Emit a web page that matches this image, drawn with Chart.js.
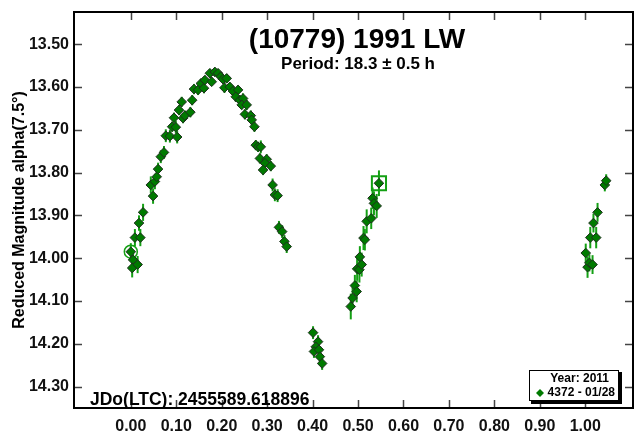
<!DOCTYPE html>
<html>
<head>
<meta charset="utf-8">
<script src="https://cdn.jsdelivr.net/npm/chart.js@4"></script>
<style>
  html, body { margin: 0; padding: 0; background: #fff; }
  #wrap { width: 639px; height: 441px; position: relative; }
</style>
</head>
<body>
<div id="wrap"><canvas id="lc"></canvas></div>
<script>
// rotational phase and reduced magnitude
var phase = [
  // rising branch
  0.000, 0.005, 0.003, 0.015, 0.009, 0.021, 0.018, 0.027, 0.049, 0.044,
  0.053, 0.057, 0.060, 0.066, 0.073, 0.077, 0.086, 0.102, 0.091, 0.099,
  0.095, 0.115, 0.119, 0.106, 0.112, 0.131, 0.135, 0.139, 0.148, 0.154,
  0.161, 0.163, 0.174, 0.178,
  // maximum and falling branch
  0.185, 0.192, 0.198, 0.203, 0.211, 0.206, 0.218, 0.225, 0.236, 0.231,
  0.240, 0.247, 0.244, 0.255, 0.251, 0.264, 0.266, 0.272, 0.275, 0.280,
  0.286, 0.284, 0.299, 0.295, 0.291, 0.308, 0.312, 0.317, 0.323, 0.326,
  0.333, 0.338, 0.343,
  // minimum
  0.401, 0.412, 0.407, 0.403, 0.414, 0.416, 0.421,
  // second rise
  0.484, 0.488, 0.493, 0.497, 0.498, 0.503, 0.508, 0.504, 0.512, 0.515,
  0.519, 0.529, 0.532, 0.535, 0.541, 0.546,
  // wrapped past 1.0
  1.001, 1.005, 1.009, 1.016, 1.011, 1.024, 1.018, 1.027, 1.043, 1.046
];
var mag = [
  13.985, 14.004, 14.023, 14.015, 13.952, 13.952, 13.918, 13.893, 13.855, 13.829,
  13.821, 13.810, 13.792, 13.763, 13.753, 13.714, 13.715, 13.717, 13.693, 13.694,
  13.672, 13.673, 13.667, 13.654, 13.635, 13.659, 13.631, 13.605, 13.607, 13.592,
  13.603, 13.584, 13.568, 13.588,
  13.565, 13.568, 13.576, 13.582, 13.580, 13.602, 13.600, 13.610, 13.607, 13.623,
  13.631, 13.627, 13.642, 13.642, 13.664, 13.667, 13.677, 13.693, 13.736, 13.740,
  13.740, 13.767, 13.769, 13.778, 13.794, 13.785, 13.829, 13.852, 13.854, 13.928,
  13.938, 13.961, 13.973,
  14.174, 14.195, 14.207, 14.218, 14.214, 14.230, 14.246,
  14.113, 14.093, 14.064, 14.078, 14.025, 14.027, 14.015, 13.997, 13.953, 13.957,
  13.914, 13.907, 13.860, 13.872, 13.878, 13.825,
  13.988, 14.021, 14.011, 14.015, 13.952, 13.952, 13.918, 13.893, 13.829, 13.819
];
var magErr = [
  0.020, 0.018, 0.022, 0.020, 0.020, 0.020, 0.018, 0.020, 0.018, 0.020,
  0.018, 0.015, 0.015, 0.015, 0.015, 0.015, 0.015, 0.015, 0.012, 0.015,
  0.012, 0.012, 0.012, 0.012, 0.012, 0.012, 0.012, 0.012, 0.012, 0.010,
  0.012, 0.010, 0.010, 0.010,
  0.010, 0.010, 0.010, 0.010, 0.010, 0.012, 0.010, 0.010, 0.010, 0.012,
  0.012, 0.012, 0.010, 0.012, 0.012, 0.012, 0.012, 0.012, 0.012, 0.012,
  0.015, 0.012, 0.012, 0.012, 0.012, 0.012, 0.015, 0.015, 0.015, 0.015,
  0.015, 0.015, 0.015,
  0.015, 0.015, 0.015, 0.015, 0.015, 0.015, 0.015,
  0.030, 0.025, 0.025, 0.025, 0.028, 0.030, 0.028, 0.025, 0.028, 0.025,
  0.028, 0.025, 0.025, 0.028, 0.028, 0.030,
  0.022, 0.025, 0.020, 0.022, 0.025, 0.025, 0.022, 0.022, 0.015, 0.015
];
var xTicks = [0.0, 0.1, 0.2, 0.3, 0.4, 0.5, 0.6, 0.7, 0.8, 0.9, 1.0];
var yTicks = [13.5, 13.6, 13.7, 13.8, 13.9, 14.0, 14.1, 14.2, 14.3];
var firstIdx = 0;   // circled point
var lastIdx = 89;   // boxed point

var FONT = '"Liberation Sans", Arial, sans-serif';
var GREEN = '#007a00';
var BAR_GREEN = '#14a014';

var points = phase.map(function(p, i) { return { x: p, y: mag[i] }; });

// error bars, frame, inward ticks and the text labels
var decor = {
  id: 'decor',
  beforeDatasetsDraw: function(chart) {
    var ctx = chart.ctx, xs = chart.scales.x, ys = chart.scales.y;
    ctx.save();
    ctx.strokeStyle = BAR_GREEN;
    ctx.lineWidth = 2;
    for (var i = 0; i < phase.length; i++) {
      var px = xs.getPixelForValue(phase[i]);
      ctx.beginPath();
      ctx.moveTo(px, ys.getPixelForValue(mag[i] - magErr[i]));
      ctx.lineTo(px, ys.getPixelForValue(mag[i] + magErr[i]));
      ctx.stroke();
    }
    ctx.restore();
  },
  afterDraw: function(chart) {
    var ctx = chart.ctx, a = chart.chartArea, xs = chart.scales.x, ys = chart.scales.y;
    ctx.save();
    ctx.strokeStyle = '#444';
    ctx.lineWidth = 1.5;
    xTicks.forEach(function(v) {
      var px = Math.round(xs.getPixelForValue(v)) + 0.5;
      ctx.beginPath();
      ctx.moveTo(px, a.bottom); ctx.lineTo(px, a.bottom - 8);
      ctx.moveTo(px, a.top); ctx.lineTo(px, a.top + 8);
      ctx.stroke();
    });
    yTicks.forEach(function(v) {
      var py = Math.round(ys.getPixelForValue(v)) + 0.5;
      ctx.beginPath();
      ctx.moveTo(a.left, py); ctx.lineTo(a.left + 8, py);
      ctx.moveTo(a.right, py); ctx.lineTo(a.right - 8, py);
      ctx.stroke();
    });
    ctx.strokeStyle = '#000';
    ctx.lineWidth = 2;
    ctx.strokeRect(a.left, a.top, a.right - a.left, a.bottom - a.top);

    ctx.fillStyle = '#000';
    ctx.textBaseline = 'middle';
    ctx.textAlign = 'center';
    ctx.font = 'bold 28px ' + FONT;
    ctx.fillText('(10779) 1991 LW', 357, 40);
    ctx.font = 'bold 17px ' + FONT;
    ctx.fillText('Period: 18.3 \u00b1 0.5 h', 358, 64);
    ctx.textAlign = 'left';
    ctx.font = 'bold 17.5px ' + FONT;
    ctx.fillText('JDo(LTC): 2455589.618896', 90, 400);

    // legend box with shadow
    ctx.fillStyle = '#000';
    ctx.fillRect(531, 372, 91, 32);
    ctx.fillStyle = '#fff';
    ctx.fillRect(529, 370, 90, 31);
    ctx.strokeStyle = '#000';
    ctx.lineWidth = 1;
    ctx.strokeRect(529.5, 370.5, 89, 30);
    ctx.fillStyle = '#000';
    ctx.font = 'bold 12px ' + FONT;
    ctx.textAlign = 'right';
    ctx.fillText('Year: 2011', 609, 379);
    ctx.fillText('4372 - 01/28', 615, 393);
    ctx.fillStyle = GREEN;
    ctx.beginPath();
    ctx.moveTo(540, 389); ctx.lineTo(544, 393); ctx.lineTo(540, 397); ctx.lineTo(536, 393);
    ctx.closePath();
    ctx.fill();
    ctx.restore();
  }
};

var chart = new Chart(document.getElementById('lc').getContext('2d'), {
  type: 'scatter',
  data: {
    datasets: [{
      data: points,
      pointStyle: 'rectRot',
      pointRadius: 4.8,
      backgroundColor: GREEN,
      borderColor: '#1e2e1e',
      borderWidth: 1
    }, {
      data: [points[firstIdx]],
      pointStyle: 'circle',
      pointRadius: 6.5,
      backgroundColor: 'rgba(0,0,0,0)',
      borderColor: BAR_GREEN,
      borderWidth: 1.5
    }, {
      data: [points[lastIdx]],
      pointStyle: 'rect',
      pointRadius: 10,
      backgroundColor: 'rgba(0,0,0,0)',
      borderColor: BAR_GREEN,
      borderWidth: 2
    }]
  },
  options: {
    responsive: true,
    maintainAspectRatio: false,
    animation: false,
    layout: { autoPadding: false, padding: { top: 12, right: 6, bottom: 0, left: 0 } },
    plugins: { legend: { display: false }, tooltip: { enabled: false } },
    scales: {
      x: {
        type: 'linear',
        min: -0.125,
        max: 1.105,
        afterBuildTicks: function(s) { s.ticks = xTicks.map(function(v) { return { value: v }; }); },
        afterFit: function(s) { s.height = 33; s.paddingLeft = 0; s.paddingRight = 0; },
        grid: { display: false, drawTicks: false },
        border: { display: false },
        ticks: {
          autoSkip: false, maxRotation: 0, padding: 9, color: '#111',
          font: { family: FONT, size: 16, weight: 'bold' },
          callback: function(v) { return Number(v).toFixed(2); }
        }
      },
      y: {
        type: 'linear',
        reverse: true,
        min: 13.425,
        max: 14.35,
        afterBuildTicks: function(s) { s.ticks = yTicks.map(function(v) { return { value: v }; }); },
        afterFit: function(s) { s.width = 74; s.paddingTop = 0; s.paddingBottom = 0; },
        grid: { display: false, drawTicks: false },
        border: { display: false },
        title: {
          display: true,
          text: 'Reduced Magnitude alpha(7.5\u00b0)',
          color: '#000',
          font: { family: FONT, size: 16, weight: 'bold' },
          padding: { top: 10, bottom: 0 }
        },
        ticks: {
          padding: 5, color: '#111',
          font: { family: FONT, size: 16, weight: 'bold' },
          callback: function(v) { return Number(v).toFixed(2); }
        }
      }
    }
  },
  plugins: [decor]
});
</script>
</body>
</html>
